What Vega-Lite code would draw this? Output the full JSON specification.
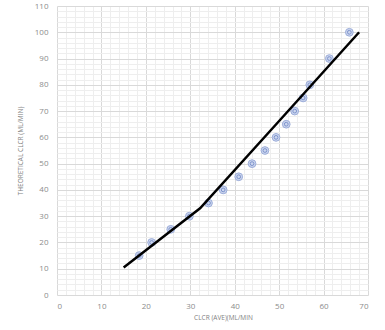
{
  "$schema": "https://vega.github.io/schema/vega-lite/v6.json",
  "width": 311,
  "height": 289,
  "autosize": "none",
  "padding": {"left": 57, "top": 6, "right": 17, "bottom": 35},
  "background": "white",
  "config": {
    "view": {"stroke": null},
    "font": "Open Sans"
  },
  "datasets": {
    "pts": [
      {"clcr_ave": 18.5, "theoretical": 15},
      {"clcr_ave": 21.3, "theoretical": 20},
      {"clcr_ave": 25.6, "theoretical": 25},
      {"clcr_ave": 29.8, "theoretical": 30},
      {"clcr_ave": 34.1, "theoretical": 35},
      {"clcr_ave": 37.4, "theoretical": 40},
      {"clcr_ave": 40.9, "theoretical": 45},
      {"clcr_ave": 43.9, "theoretical": 50},
      {"clcr_ave": 46.8, "theoretical": 55},
      {"clcr_ave": 49.3, "theoretical": 60},
      {"clcr_ave": 51.6, "theoretical": 65},
      {"clcr_ave": 53.5, "theoretical": 70},
      {"clcr_ave": 55.4, "theoretical": 75},
      {"clcr_ave": 56.9, "theoretical": 80},
      {"clcr_ave": 61.3, "theoretical": 90},
      {"clcr_ave": 65.8, "theoretical": 100}
    ],
    "fit": [
      {"clcr_ave": 15.0, "theoretical": 10.5},
      {"clcr_ave": 32.2, "theoretical": 33.0},
      {"clcr_ave": 50.2, "theoretical": 66.6},
      {"clcr_ave": 68.0, "theoretical": 100.0}
    ]
  },
  "encoding": {
    "x": {
      "field": "clcr_ave", "type": "quantitative",
      "scale": {"domain": [0, 70], "nice": false, "zero": false},
      "axis": {
        "title": "CLCR (AVE)(ML/MIN",
        "values": [0,2,4,6,8,10,12,14,16,18,20,22,24,26,28,30,32,34,36,38,40,42,44,46,48,50,52,54,56,58,60,62,64,66,68,70],
        "labelExpr": "datum.value % 10 === 0 ? datum.label : ''",
        "gridColor": {"condition": {"test": "datum.value % 10 === 0", "value": "#d9d9d9"}, "value": "#eeeeee"},
        "gridWidth": 1,
        "domain": false,
        "ticks": false,
        "labelPadding": 7,
        "labelFont": "Open Sans",
        "labelFontSize": 8,
        "labelColor": "#8c8c8c",
        "titleFont": "Open Sans",
        "titleFontSize": 6.5,
        "titleFontWeight": "normal",
        "titleColor": "#7f7f7f",
        "titlePadding": 4,
        "titleX": 166
      }
    },
    "y": {
      "field": "theoretical", "type": "quantitative",
      "scale": {"domain": [0, 110], "nice": false, "zero": false},
      "axis": {
        "title": "THEORETICAL CLCR (ML/MIN)",
        "values": [0,2,4,6,8,10,12,14,16,18,20,22,24,26,28,30,32,34,36,38,40,42,44,46,48,50,52,54,56,58,60,62,64,66,68,70,72,74,76,78,80,82,84,86,88,90,92,94,96,98,100,102,104,106,108,110],
        "labelExpr": "datum.value % 10 === 0 ? datum.label : ''",
        "gridColor": {"condition": {"test": "datum.value % 10 === 0", "value": "#d9d9d9"}, "value": "#eeeeee"},
        "gridWidth": 1,
        "domain": false,
        "ticks": false,
        "labelPadding": 9,
        "labelFont": "Open Sans",
        "labelFontSize": 8,
        "labelColor": "#8c8c8c",
        "titleFont": "Open Sans",
        "titleFontSize": 6.5,
        "titleFontWeight": "normal",
        "titleColor": "#7f7f7f",
        "titlePadding": 11
      }
    }
  },
  "layer": [
    {
      "data": {"name": "pts"},
      "mark": {"type": "point", "shape": "circle", "filled": true, "size": 60, "fill": "#ccd6ee", "stroke": "#9cadda", "strokeWidth": 1, "opacity": 1}
    },
    {
      "data": {"name": "pts"},
      "mark": {"type": "point", "shape": "circle", "filled": false, "size": 14, "stroke": "#7d93cc", "strokeWidth": 1, "opacity": 1}
    },
    {
      "data": {"name": "fit"},
      "mark": {"type": "line", "color": "#000000", "strokeWidth": 2.5}
    }
  ]
}
